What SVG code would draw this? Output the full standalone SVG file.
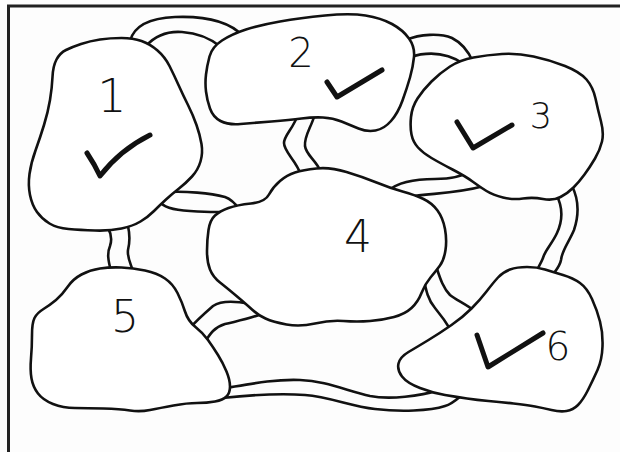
<svg xmlns="http://www.w3.org/2000/svg" width="620" height="452" viewBox="0 0 620 452">
<style>
.stone{fill:#ffffff;stroke:#111;stroke-width:2.6;stroke-linejoin:round}
.br{fill:none;stroke:#111;stroke-width:2.6;stroke-linecap:round}
.chk{fill:none;stroke:#111;stroke-width:5;stroke-linecap:round;stroke-linejoin:round}
.num{font-family:"DejaVu Sans","Liberation Sans",sans-serif;font-weight:200;fill:#111;text-anchor:middle}
</style>
<rect x="0" y="0" width="620" height="452" fill="#fdfdfd"/>
<g id="frame" fill="none" stroke="#222" stroke-width="3">
<path d="M8.5,452 L8.5,6 L620,6"/>
</g>
<g id="connectors">
<path class="br" d="M130,41 C134,26 150,18 175,17 C200,16 228,20 243,36"/>
<path class="br" d="M146,46 C155,36 168,31 182,32 C198,33 210,38 221,47"/>
<path class="br" d="M406,40 C420,34 440,33 452,38 C462,43 468,50 473,62"/>
<path class="br" d="M410,57 C426,52 445,51 464,64"/>
<path class="br" d="M298,114 C294,128 284,135 284,143 C284,152 296,160 301,175"/>
<path class="br" d="M315,114 C311,128 304,136 305,146 C306,155 316,160 321,172"/>
<path class="br" d="M388,191 C398,182 415,179 435,179 C450,179 462,177 472,170"/>
<path class="br" d="M408,197 C430,193 455,194 484,186"/>
<path class="br" d="M572,186 C579,200 579,215 574,230 C569,242 562,250 561,260 C560,266 556,270 552,276"/>
<path class="br" d="M556,194 C563,207 563,220 557,233 C552,244 545,250 543,258 C541,263 539,266 536,272"/>
<path class="br" d="M436,266 C440,278 443,288 450,295 C456,300 466,304 476,312"/>
<path class="br" d="M424,280 C426,290 428,300 435,308 C440,314 446,322 452,332"/>
<path class="br" d="M168,192 C185,191 210,193 225,197 C231,199 235,203 240,210"/>
<path class="br" d="M158,200 C163,207 172,210 190,211 C205,212 222,213 230,211"/>
<path class="br" d="M108,228 C112,235 112,240 110,246 C107,253 108,260 111,271"/>
<path class="br" d="M128,226 C130,235 130,242 128,250 C127,257 130,262 133,271"/>
<path class="br" d="M190,328 C196,321 205,313 213,306 C222,300 235,301 250,304"/>
<path class="br" d="M204,344 C210,333 215,327 225,324 C237,321 250,319 264,313"/>
<path class="br" d="M226,388 C250,384 275,379 300,380 C325,381 345,390 370,396 C390,400 420,396 440,390"/>
<path class="br" d="M222,398 C250,395 280,393 305,395 C330,397 350,406 375,409 C400,412 430,411 445,406 C452,404 456,400 462,395"/>
</g>
<g id="stone1">
<path class="stone" d="M100,39.5 Q110,38 121.5,38 Q133,38 141.5,41 Q150,44 157.5,50.5 Q165,57 169.5,66 Q174,75 178.5,85 Q183,95 188,105 Q193,115 196.5,125 Q200,135 201.5,144 Q203,153 200.5,161.5 Q198,170 192,176.5 Q186,183 179,188.5 Q172,194 166,199.5 Q160,205 154,211 Q148,217 140.5,221.5 Q133,226 121.5,228.5 Q110,231 95,230.5 Q80,230 68.5,229 Q57,228 49.5,223.5 Q42,219 37,212 Q32,205 30,195 Q28,185 29.5,174 Q31,163 35.5,150.5 Q40,138 44,125 Q48,112 50,100 Q52,88 52.5,77 Q53,66 56.5,59.5 Q60,53 66,50 Q72,47 81,44 Q90,41 100,39.5 Z"/>
<text class="num" x="112" y="112" font-size="46">1</text>
<path class="chk" d="M87,153 Q95,165 100,176 Q120,150 150,135"/>
</g>
<g id="stone2">
<path class="stone" d="M206,74.5 Q207,66 209.5,56.5 Q212,47 222,40.5 Q232,34 246,29.5 Q260,25 280,21.5 Q300,18 325,15.5 Q350,13 365.5,15.5 Q381,18 392,24 Q403,30 409,38.5 Q415,47 414,57 Q413,67 410,77.5 Q407,88 402.5,100.5 Q398,113 391,121 Q384,129 375.5,130.5 Q367,132 358.5,128.5 Q350,125 341.5,121.5 Q333,118 323,117.5 Q313,117 301.5,118.5 Q290,120 271.5,121.5 Q253,123 240.5,124 Q228,125 220.5,121 Q213,117 210,108.5 Q207,100 206,91.5 Q205,83 206,74.5 Z"/>
<text class="num" x="301" y="67" font-size="40">2</text>
<path class="chk" d="M327,82 L337,97 L382,70"/>
</g>
<g id="stone3">
<path class="stone" d="M431.5,81.5 Q440,73 450,66.5 Q460,60 473.5,57.5 Q487,55 502,54 Q517,53 533.5,56.5 Q550,60 565,66 Q580,72 586.5,79.5 Q593,87 595.5,98.5 Q598,110 601,121.5 Q604,133 602,141.5 Q600,150 595,158.5 Q590,167 584.5,174.5 Q579,182 573.5,187.5 Q568,193 560.5,197 Q553,201 543,199 Q533,197 523,198.5 Q513,200 503,197.5 Q493,195 486.5,191 Q480,187 472.5,181.5 Q465,176 452.5,169.5 Q440,163 431.5,158 Q423,153 418,147.5 Q413,142 411.5,134.5 Q410,127 411,117 Q412,107 417.5,98.5 Q423,90 431.5,81.5 Z"/>
<text class="num" x="541" y="128" font-size="35">3</text>
<path class="chk" d="M457,122 L473,148 L512,125"/>
</g>
<g id="stone4">
<path class="stone" d="M228.5,208 Q237,205 251,203.5 Q265,202 269,194.5 Q273,187 280,181 Q287,175 295,172.5 Q303,170 316.5,168.5 Q330,167 346.5,172 Q363,177 376.5,182.5 Q390,188 402.5,191.5 Q415,195 423.5,199 Q432,203 437.5,210.5 Q443,218 445,229 Q447,240 445.5,250 Q444,260 440,265.5 Q436,271 430.5,277.5 Q425,284 421.5,293 Q418,302 411.5,308 Q405,314 394,317 Q383,320 370,321 Q357,322 343.5,321 Q330,320 315,323.5 Q300,327 286.5,324.5 Q273,322 265.5,318.5 Q258,315 252,309.5 Q246,304 236.5,296 Q227,288 220,282.5 Q213,277 210,269.5 Q207,262 207,251 Q207,240 208.5,230 Q210,220 215,215.5 Q220,211 228.5,208 Z"/>
<text class="num" x="358" y="252" font-size="44">4</text>
</g>
<g id="stone5">
<path class="stone" d="M81.5,274.5 Q90,270 100,268.5 Q110,267 121.5,267.5 Q133,268 145,270.5 Q157,273 165,278.5 Q173,284 177.5,293 Q182,302 185,311.5 Q188,321 195.5,327 Q203,333 208,340 Q213,347 218,355 Q223,363 226.5,371.5 Q230,380 230,386.5 Q230,393 226.5,396.5 Q223,400 215,401.5 Q207,403 197,403 Q187,403 173.5,405.5 Q160,408 150,410 Q140,412 130,410.5 Q120,409 103.5,408.5 Q87,408 75,408 Q63,408 53,404 Q43,400 38,393.5 Q33,387 31.5,378.5 Q30,370 31,358.5 Q32,347 32,335 Q32,323 34.5,318 Q37,313 43.5,309 Q50,305 56,300 Q62,295 67.5,287 Q73,279 81.5,274.5 Z"/>
<text class="num" x="125" y="332" font-size="44">5</text>
</g>
<g id="stone6">
<path class="stone" d="M498,277.5 Q503,272 510,269.5 Q517,267 527,267 Q537,267 545,269.5 Q553,272 563,275 Q573,278 580,283 Q587,288 592,299 Q597,310 600,321.5 Q603,333 602.5,346.5 Q602,360 597.5,370 Q593,380 588,390 Q583,400 578,405 Q573,410 566.5,411 Q560,412 551.5,410 Q543,408 535,406.5 Q527,405 513.5,403.5 Q500,402 488.5,401 Q477,400 467,398.5 Q457,397 445,395 Q433,393 420,388 Q407,383 402,376.5 Q397,370 398.5,363.5 Q400,357 408.5,352 Q417,347 428.5,340 Q440,333 451.5,325 Q463,317 471.5,308.5 Q480,300 486.5,291.5 Q493,283 498,277.5 Z"/>
<text class="num" x="558" y="360" font-size="39">6</text>
<path class="chk" d="M477,335 L488,367 L543,333"/>
</g>
</svg>
